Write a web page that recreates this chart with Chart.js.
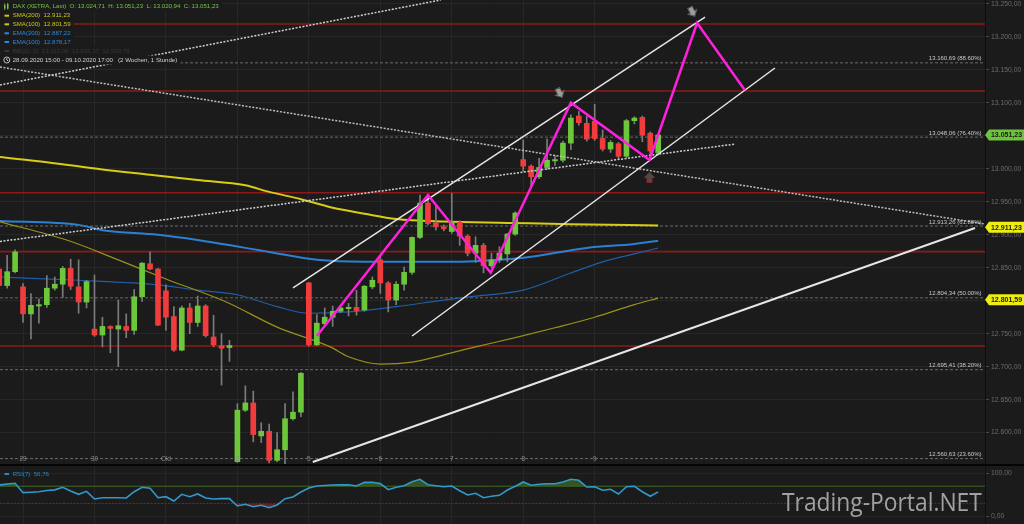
<!DOCTYPE html>
<html><head><meta charset="utf-8">
<script src="https://cdn.jsdelivr.net/npm/chart.js@4.4.0/dist/chart.umd.min.js"></script>
<style>
html,body{margin:0;padding:0;background:#1b1b1b;overflow:hidden}
#wrap{position:relative;width:1024px;height:524px;background:#1b1b1b}
#c1{position:absolute;left:0;top:0}
#sep{position:absolute;left:0;top:464px;width:1024px;height:2px;background:#050505}
#c2{position:absolute;left:0;top:466px}
</style></head>
<body><div id="wrap"><canvas id="c1" width="1024" height="464"></canvas><div id="sep"></div><canvas id="c2" width="1024" height="58"></canvas></div>
<script>
// ---------- DATA ----------
const opens  = [12848,12823,12844,12821,12780,12792,12794,12819,12825,12849,12821,12798,12757,12748,12761,12757,12761,12755,12806,12856,12848,12815,12776,12725,12789,12767,12792,12745,12732,12729,12556,12634,12645,12595,12602,12558,12574,12621,12631,12827,12733,12765,12775,12784,12788,12790,12786,12821,12862,12827,12801,12825,12843,12896,12948,12918,12912,12905,12919,12898,12872,12884,12853,12862,12871,12901,13014,13004,12988,13002,13012,13013,13039,13080,13069,13072,13046,13030,13038,13019,13073,13078,13054,13024.71];
const highs  = [12856,12869,12877,12826,12811,12803,12838,12836,12852,12863,12862,12831,12839,12775,12762,12801,12780,12817,12858,12874,12849,12824,12791,12792,12796,12807,12794,12778,12750,12740,12644,12671,12663,12615,12613,12600,12644,12662,12691,12828,12779,12789,12792,12793,12796,12816,12823,12836,12867,12829,12829,12851,12897,12960,12960,12943,12915,12963,12921,12900,12897,12887,12872,12882,12902,12935,13044,13006,13016,13045,13020,13042,13082,13087,13080,13098,13059,13043,13040,13075,13079,13080,13056,13051.23];
const lows   = [12818,12819,12842,12767,12742,12766,12790,12816,12805,12817,12781,12789,12746,12730,12721,12700,12744,12749,12799,12847,12762,12755,12723,12724,12750,12761,12745,12730,12672,12708,12555,12632,12586,12585,12554,12556,12552,12619,12624,12731,12732,12762,12761,12782,12777,12778,12784,12818,12811,12783,12794,12816,12840,12894,12915,12907,12906,12902,12884,12868,12858,12842,12850,12858,12859,12899,12996,12974,12985,12999,13005,13010,13029,13066,13042,13043,13027,13025,13015,13017,13068,13041,13020,13020.94];
const closes = [12823,12844,12874,12780,12793,12794,12819,12825,12849,12822,12798,12829,12748,12761,12758,12762,12755,12806,12857,12848,12763,12775,12725,12789,12767,12792,12747,12733,12728,12732,12634,12645,12597,12602,12558,12574,12621,12631,12690,12733,12766,12775,12784,12789,12790,12785,12822,12831,12827,12801,12825,12843,12896,12948,12917,12912,12909,12920,12898,12872,12884,12853,12862,12872,12901,12933,13004,12988,13002,13013,13014,13039,13077,13070,13045,13046,13030,13040,13019,13073,13077,13051,13027,13051.23];

const dayTickIdx    = [3,12,21,30,39,48,57,66,75];
const dayTickLabels = ['29','30','Okt','2','5','6','7','8','9'];

const sma200Idx = [0,6,13,19,25,31,34,38,42,46,50,56,64,72,83];
const sma200Val = [13018,13010,12999,12991,12983,12975,12965,12954,12941,12932,12924,12920,12918,12916,12914];
const sma100Idx = [0,8.5,15,21,28.6,35,41.7,44,48,52,56,60,65,70,75,80,83];
const sma100Val = [12920,12892,12862,12833,12798,12760,12730,12715,12704,12707,12718,12730,12744,12759,12775,12794,12804];
const ema200Idx = [0,10,13,20,25,34,40,46,56,60,66,74,80,83];
const ema200Val = [12921,12915,12907,12900,12892,12874,12862,12859,12859,12860,12865,12880,12886,12891];
const ema100Idx = [0,10,20,25,30,35,39,44,50,56,60,66,72,76,80,83];
const ema100Val = [12836,12831,12824,12816,12809,12791,12781,12783,12791,12801,12807,12816,12842,12859,12871,12880];

const redLevels  = [13219.6,13118,12963.8,12874.4,12731.4];
const fibLevels  = [13160.69,13048.06,12913.26,12804.34,12695.41,12560.63];
const fibPct     = ['88.60%','76.40%','61.80%','50.00%','38.20%','23.60%'];

const upperChIdx = [37.0,88.9];   const upperChVal = [12819.3,13230.2];
const lowerChIdx = [52.0,97.7];   const lowerChVal = [12746.5,13152.9];
const longLowIdx = [39.5,122.9];  const longLowVal = [12555.5,12910.3];
const dot1Idx    = [0.1,55.6];    const dot1Val    = [13127.1,13256];
const dot2Idx    = [0.1,124.16];  const dot2Val    = [13154.4,12916.3];
const dot3Idx    = [0.1,92.7];    const dot3Val    = [12889.8,13037.6];
const zigIdx     = [40.0,54.0,61.9,72.0,81.9,87.9,93.9];
const zigVal     = [12746.5,12960.3,12842.5,13100.3,13013.4,13221.1,13119.5];

const markerIdx = [70.6,87.3,81.9];
const markerVal = [13115,13238,12987];
const markerUp  = [false,false,true];

const priceTags  = [13051.23,12911.23,12801.59];
const priceTagBg = ['#6cc43c','#eeee10','#eeee10'];

const rsi = [72.8,75,76.7,55,56,57.2,60,61.5,67.4,59,51.2,58.1,40.2,43.3,43,43,42.6,57.2,67.4,65.1,43.3,45.6,35.6,51.2,45.6,51.9,42.6,40.2,41,41,24,27.9,22.3,25.6,20,26.3,41,44.9,56.5,65.8,70.5,71.5,72.8,73,73.5,70.5,79,79,76,61.9,67.4,71.2,80.5,86,73.5,71,68.8,70.5,59.5,49.5,53.5,43.3,46.5,48.8,61.2,69.8,79.8,72.1,74.4,75.8,75.8,79.8,86,83.7,68.1,68.8,60.5,62.8,51.9,68.8,69.8,57.2,46.5,56.76];
const rsiHigh = 70, rsiLow = 30;

const X_MIN = 0.1, X_MAX = 124.16;
const Y_MIN = 12552.4, Y_MAX = 13256;

// ---------- helpers ----------
const GREEN = '#6cc83a', RED = '#f03c3c';
const FONT = '"Liberation Sans", Arial, sans-serif';
function fmtDE(v){ let [a,b]=v.toFixed(2).split('.'); a=a.replace(/\B(?=(\d{3})+(?!\d))/g,'.'); return a+','+b; }
const pts = (xs,ys)=>xs.map((x,k)=>({x, y:ys[k]}));
const lineDs = (data,color,width,order,dash)=>({type:'line',data,borderColor:color,borderWidth:width,pointRadius:0,fill:false,order,borderDash:dash||[],tension:0});
const maDs = (data,color,width)=>({type:'line',data,borderColor:color,borderWidth:width,pointRadius:0,fill:false,order:5,cubicInterpolationMode:'monotone'});

const datasets = [];
fibLevels.forEach(v=>datasets.push(lineDs([{x:X_MIN,y:v},{x:X_MAX,y:v}],'#6a6a6a',1,7,[3,2])));
redLevels.forEach(v=>datasets.push(lineDs([{x:X_MIN,y:v},{x:X_MAX,y:v}],'#8c1a1a',1.6,6)));
datasets.push(maDs(pts(sma200Idx,sma200Val),'#d8cc14',2));
datasets.push(maDs(pts(sma100Idx,sma100Val),'#9a9218',1.2));
datasets.push(maDs(pts(ema200Idx,ema200Val),'#2b80d2',2));
datasets.push(maDs(pts(ema100Idx,ema100Val),'#1f5ea8',1.2));
datasets.push({type:'bar',data:opens.map((o,i)=>({x:i,y:[lows[i],highs[i]]})),backgroundColor:'#7c7c7c',barThickness:1,grouped:false,order:4});
datasets.push({type:'bar',data:opens.map((o,i)=>({x:i,y:[o,closes[i]]})),backgroundColor:opens.map((o,i)=>closes[i]>=o?GREEN:RED),barThickness:5,minBarLength:1,grouped:false,order:3});
datasets.push(lineDs(pts(dot1Idx,dot1Val),'#cfcfcf',1.5,2,[2,1.5]));
datasets.push(lineDs(pts(dot2Idx,dot2Val),'#bdbdbd',1.5,2,[2,1.5]));
datasets.push(lineDs(pts(dot3Idx,dot3Val),'#cfcfcf',1.5,2,[2,1.5]));
datasets.push(lineDs(pts(upperChIdx,upperChVal),'#e6e6e6',1.5,1));
datasets.push(lineDs(pts(lowerChIdx,lowerChVal),'#e6e6e6',1.5,1));
datasets.push(lineDs(pts(longLowIdx,longLowVal),'#e6e6e6',2,1));
datasets.push(lineDs(pts(zigIdx,zigVal),'#ff20dc',2.5,0));

function drawArrow(ctx,px,py,up){
  ctx.save(); ctx.translate(px,py);
  if(!up) ctx.rotate(-0.5);
  const d = up?-1:1;
  ctx.beginPath();
  ctx.moveTo(-2.5,-5*d); ctx.lineTo(2.5,-5*d); ctx.lineTo(2.5,0); ctx.lineTo(5,0);
  ctx.lineTo(0,5*d); ctx.lineTo(-5,0); ctx.lineTo(-2.5,0); ctx.closePath();
  ctx.fillStyle = up?'#4a4a4a':'#9c9c9c'; ctx.fill();
  ctx.strokeStyle = up?'#a02222':'#5a5a5a'; ctx.lineWidth=1; ctx.stroke();
  ctx.restore();
}

const mainPlugin = {
  id:'mainOverlay',
  afterDatasetsDraw(chart){
    const {ctx, scales:{x,y}, chartArea} = chart;
    ctx.save();
    // fib labels
    ctx.font = '6px '+FONT; ctx.fillStyle='#cacaca'; ctx.textAlign='right'; ctx.textBaseline='alphabetic';
    fibLevels.forEach((v,k)=>ctx.fillText(fmtDE(v)+' ('+fibPct[k]+')', chartArea.right-3.5, y.getPixelForValue(v)-2.5));
    // markers
    markerIdx.forEach((v,k)=>drawArrow(ctx,x.getPixelForValue(v),y.getPixelForValue(markerVal[k]),markerUp[k]));
    // x labels
    ctx.fillStyle='#8a8a8a'; ctx.textAlign='center'; ctx.textBaseline='middle'; ctx.font='6.4px '+FONT;
    dayTickIdx.forEach((v,k)=>ctx.fillText(dayTickLabels[k], x.getPixelForValue(v), 459));
    // price tags on axis
    ctx.font='bold 7px '+FONT;
    priceTags.forEach((v,k)=>{
      const py = y.getPixelForValue(v), l = chartArea.right;
      ctx.beginPath(); ctx.moveTo(l,py); ctx.lineTo(l+4,py-5.5); ctx.lineTo(1024,py-5.5); ctx.lineTo(1024,py+5.5); ctx.lineTo(l+4,py+5.5); ctx.closePath();
      ctx.fillStyle=priceTagBg[k]; ctx.fill();
      ctx.fillStyle='#1a1a1a'; ctx.textAlign='center'; ctx.fillText(fmtDE(v), l+21.5, py+0.5);
    });
    // legend
    const rows = [
      ['DAX (XETRA, Last)  O: 13.024,71  H: 13.051,23  L: 13.020,94  C: 13.051,23','#74c448','candle'],
      ['SMA(200)  12.911,23','#cfc41a','dash'],
      ['SMA(100)  12.801,59','#cfc41a','dash'],
      ['EMA(200)  12.887,22','#2f86d6','dash'],
      ['EMA(100)  12.878,17','#2f86d6','dash'],
      ['BB(20, 2)  13.113,09  13.032,37  12.950,78','#383838','dash'],
      ['28.09.2020 15:00 - 09.10.2020 17:00   (2 Wochen, 1 Stunde)','#d0d0d0','clock']
    ];
    const rowY = [6.7,15.7,24.3,33.3,42,51,60];
    ctx.font='6.1px '+FONT; ctx.textAlign='left'; ctx.textBaseline='middle';
    rows.forEach((r,k)=>{
      const w = ctx.measureText(r[0]).width;
      ctx.fillStyle='#1b1b1b'; ctx.fillRect(0,rowY[k]-4.5,w+16,9);
      ctx.fillStyle=r[1]; ctx.fillText(r[0],12.7,rowY[k]);
      if(r[2]==='dash'){ ctx.fillRect(4.5,rowY[k]-1,4.5,2); }
      else if(r[2]==='candle'){ ctx.fillRect(4,rowY[k]-2,1.5,4); ctx.fillRect(7,rowY[k]-3,1.5,5); ctx.fillRect(4.5,rowY[k]-3.5,0.6,7); ctx.fillRect(7.5,rowY[k]-4,0.6,7); }
      else { ctx.strokeStyle=r[1]; ctx.lineWidth=0.9; ctx.beginPath(); ctx.arc(6.8,rowY[k],3,0,Math.PI*2); ctx.stroke(); ctx.beginPath(); ctx.moveTo(6.8,rowY[k]-1.8); ctx.lineTo(6.8,rowY[k]); ctx.lineTo(8.2,rowY[k]+1); ctx.stroke(); }
    });
    ctx.restore();
  }
};

const xScaleCommon = {
  type:'linear', min:X_MIN, max:X_MAX, offset:false,
  afterBuildTicks(s){ s.ticks = dayTickIdx.map(v=>({value:v})); },
  afterFit(s){ s.height = 0; s.paddingLeft = 0; s.paddingRight = 0; },
  ticks:{display:false},
  grid:{color:'#272727', lineWidth:1, drawTicks:false, offset:false},
  border:{display:false}
};
const yFit = s => { s.width = 39; s.paddingTop = 0; s.paddingBottom = 0; };

new Chart(document.getElementById('c1'), {
  type:'bar',
  data:{datasets},
  options:{
    responsive:false, animation:false, devicePixelRatio:1,
    layout:{padding:0, autoPadding:false},
    plugins:{legend:{display:false}, tooltip:{enabled:false}},
    scales:{
      x: xScaleCommon,
      y:{
        position:'right', min:Y_MIN, max:Y_MAX,
        afterBuildTicks(s){ const t=[]; for(let v=12600; v<=13250; v+=50) t.push({value:v}); s.ticks=t; },
        afterFit: yFit,
        ticks:{color:'#6c6c6c', font:{size:6.8, family:FONT}, padding:2, callback:v=>fmtDE(v)},
        grid:{color:'#272727', tickColor:'#4a4a4a', tickLength:4, drawTicks:true},
        border:{display:true, color:'#0e0e0e', width:1}
      }
    }
  },
  plugins:[mainPlugin]
});

const rsiPlugin = {
  id:'rsiOverlay',
  afterDraw(chart){
    const {ctx} = chart;
    ctx.save();
    ctx.font='6.1px '+FONT; ctx.textBaseline='middle'; ctx.textAlign='left';
    ctx.fillStyle='#2a8ac4'; ctx.fillRect(4.5,7,4.5,2);
    ctx.fillText('RSI(7)  '+String(rsi[rsi.length-1]).replace('.',','), 12.7, 8);
    const txt='Trading-Portal.NET';
    ctx.font='24px "Open Sans", sans-serif';
    const w = ctx.measureText(txt).width;
    const size = 24*200/w;
    ctx.font = size+'px "Open Sans", sans-serif';
    ctx.fillStyle='rgba(185,185,185,0.85)'; ctx.textBaseline='alphabetic';
    ctx.translate(782, 44.7);
    ctx.scale(1, 18/(0.714*size));
    ctx.fillText(txt, 0, 0);
    ctx.restore();
  }
};

const rsiPts = rsi.map((v,i)=>({x:i,y:v}));
new Chart(document.getElementById('c2'), {
  type:'line',
  data:{datasets:[
    {data:[{x:X_MIN,y:rsiHigh},{x:X_MAX,y:rsiHigh}], borderColor:'#3d6a22', borderWidth:1, pointRadius:0, fill:false, order:3},
    {data:[{x:X_MIN,y:rsiLow},{x:X_MAX,y:rsiLow}], borderColor:'#702828', borderWidth:1, borderDash:[2,1.5], pointRadius:0, fill:false, order:3},
    {data:rsiPts, borderWidth:0, borderColor:'rgba(0,0,0,0)', pointRadius:0, fill:{target:{value:rsiLow}, above:'rgba(0,0,0,0)', below:'rgba(125,38,38,0.75)'}, order:2},
    {data:rsiPts, borderColor:'#2f9acb', borderWidth:1.6, pointRadius:0, fill:{target:{value:rsiHigh}, above:'rgba(66,98,30,0.8)', below:'rgba(0,0,0,0)'}, order:1}
  ]},
  options:{
    responsive:false, animation:false, devicePixelRatio:1,
    layout:{padding:0, autoPadding:false},
    plugins:{legend:{display:false}, tooltip:{enabled:false}},
    scales:{
      x: xScaleCommon,
      y:{
        position:'right', min:-17.9, max:116.98,
        afterBuildTicks(s){ s.ticks=[{value:0},{value:100}]; },
        afterFit: yFit,
        ticks:{color:'#6c6c6c', font:{size:6.8, family:FONT}, padding:2, callback:v=>fmtDE(v)},
        grid:{color:'#252525', tickColor:'#4a4a4a', tickLength:4},
        border:{display:true, color:'#0e0e0e', width:1}
      }
    }
  },
  plugins:[rsiPlugin]
});
</script></body></html>
